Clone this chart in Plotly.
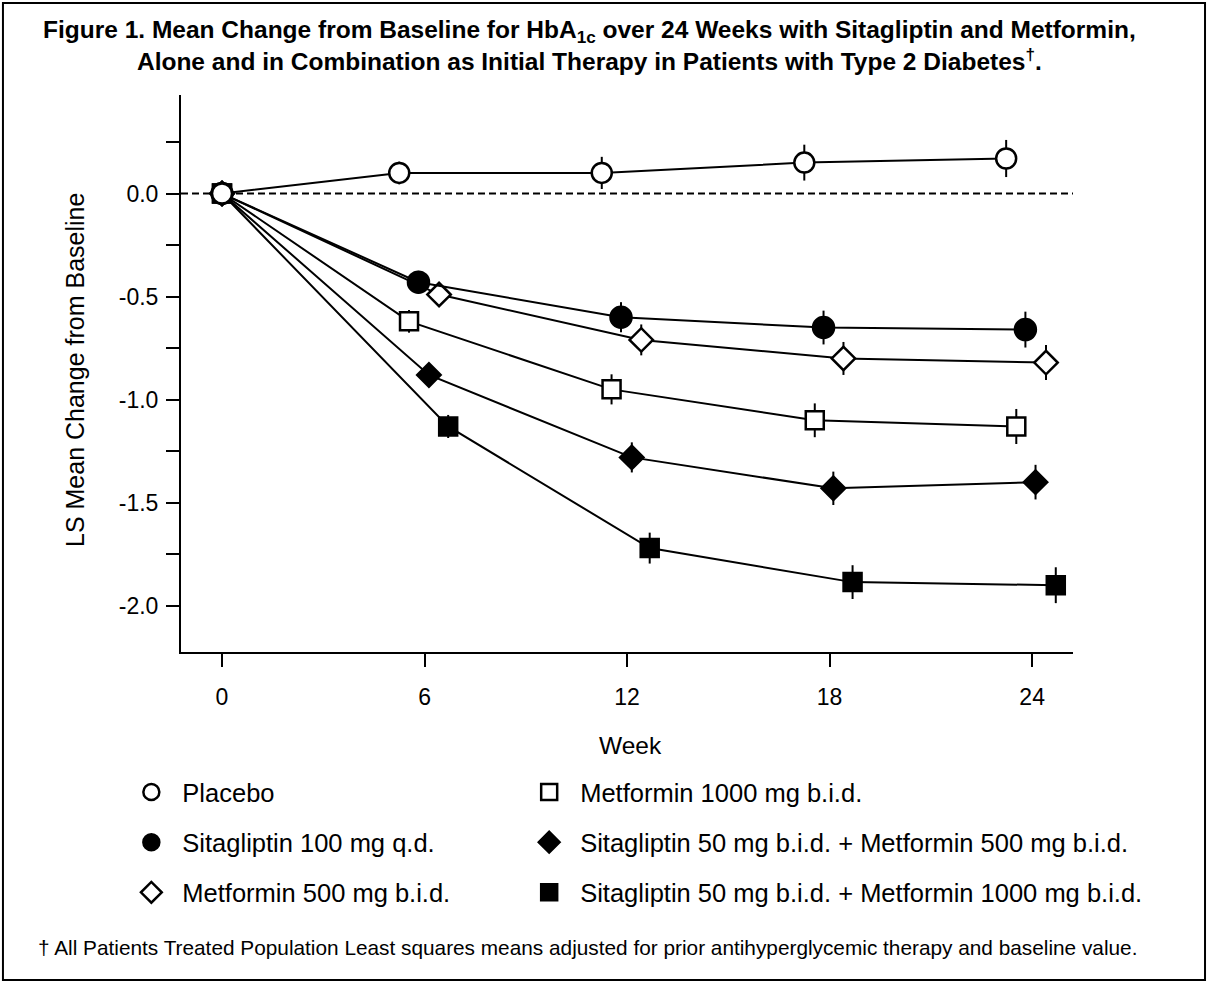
import plotly.graph_objects as go

# weeks as plotted (points are nudged sideways in the original so they don't overlap)
placebo_x = [0, 5.25, 11.25, 17.25, 23.23]
placebo_y = [0, 0.10, 0.10, 0.15, 0.17]
placebo_err = [0, 0.055, 0.078, 0.087, 0.09]

sita100_x = [0, 5.82, 11.82, 17.82, 23.8]
sita100_y = [0, -0.43, -0.60, -0.65, -0.66]
sita100_err = [0, 0.055, 0.073, 0.082, 0.087]

met500_x = [0, 6.43, 12.42, 18.41, 24.41]
met500_y = [0, -0.49, -0.71, -0.80, -0.82]
met500_err = [0, 0.055, 0.075, 0.08, 0.085]

met1000_x = [0, 5.54, 11.54, 17.56, 23.53]
met1000_y = [0, -0.62, -0.95, -1.10, -1.13]
met1000_err = [0, 0.055, 0.073, 0.082, 0.085]

sm500_x = [0, 6.13, 12.14, 18.11, 24.1]
sm500_y = [0, -0.88, -1.28, -1.43, -1.40]
sm500_err = [0, 0.055, 0.073, 0.081, 0.084]

sm1000_x = [0, 6.7, 12.67, 18.68, 24.7]
sm1000_y = [0, -1.13, -1.72, -1.885, -1.90]
sm1000_err = [0, 0.056, 0.075, 0.082, 0.087]

x_ticks = [0, 6, 12, 18, 24]
y_ticks = [0.0, -0.5, -1.0, -1.5, -2.0]
y_ticktext = ["0.0", "-0.5", "-1.0", "-1.5", "-2.0"]

FONT = "Liberation Sans, Arial, Helvetica, sans-serif"

# name, x, y, err, symbol, fill, size, legend column
series = [
    ("Sitagliptin 50 mg b.i.d. + Metformin 1000 mg b.i.d.", sm1000_x, sm1000_y, sm1000_err, "square", "black", 18, "legend2"),
    ("Sitagliptin 50 mg b.i.d. + Metformin 500 mg b.i.d.", sm500_x, sm500_y, sm500_err, "diamond", "black", 18, "legend2"),
    ("Metformin 1000 mg b.i.d.", met1000_x, met1000_y, met1000_err, "square", "white", 18, "legend2"),
    ("Metformin 500 mg b.i.d.", met500_x, met500_y, met500_err, "diamond", "white", 18, "legend"),
    ("Sitagliptin 100 mg q.d.", sita100_x, sita100_y, sita100_err, "circle", "black", 21, "legend"),
    ("Placebo", placebo_x, placebo_y, placebo_err, "circle", "white", 20, "legend"),
]
legend_order = ["Placebo", "Sitagliptin 100 mg q.d.", "Metformin 500 mg b.i.d.",
                "Metformin 1000 mg b.i.d.", "Sitagliptin 50 mg b.i.d. + Metformin 500 mg b.i.d.",
                "Sitagliptin 50 mg b.i.d. + Metformin 1000 mg b.i.d."]

fig = go.Figure()

for name, x, y, err, sym, fill, size, leg in series:
    fig.add_trace(go.Scatter(
        x=x, y=y, mode="lines+markers", name=name, showlegend=False,
        line=dict(color="black", width=2),
        marker=dict(symbol=sym, size=size, color=fill, line=dict(color="black", width=2.5)),
        error_y=dict(type="data", array=err, visible=True, color="black", thickness=2, width=0),
    ))

# legend-only marker entries
lookup = {s[0]: s for s in series}
for i, name in enumerate(legend_order):
    _, _, _, _, sym, fill, size, leg = lookup[name]
    fig.add_trace(go.Scatter(
        x=[None], y=[None], mode="markers", name=name, legend=leg, legendgroup=str(i),
        marker=dict(symbol=sym, size=size, color=fill, line=dict(color="black", width=2.5)),
    ))

fig.add_shape(type="line", xref="paper", x0=0, x1=1, yref="y", y0=0, y1=0,
              line=dict(color="black", width=2, dash="7px,4px"), layer="below")

# outer frame
fig.add_shape(type="rect", xref="paper", yref="paper",
              x0=-0.1996, x1=1.148, y0=-0.589, y1=1.165,
              line=dict(color="black", width=2))

fig.add_annotation(
    xref="paper", yref="paper", x=0.458, y=1.088, xanchor="center", yanchor="middle",
    text="Figure 1. Mean Change from Baseline for HbA<sub>1c</sub> over 24 Weeks with Sitagliptin and Metformin,<br>"
         "Alone and in Combination as Initial Therapy in Patients with Type 2 Diabetes<sup>†</sup>.",
    showarrow=False, align="center", font=dict(family=FONT, size=24.5, color="black", weight="bold"))

fig.add_annotation(xref="paper", yref="paper", x=0.5044, y=-0.167, xanchor="center", yanchor="middle",
                   text="Week", showarrow=False, font=dict(family=FONT, size=24.5, color="black"))

fig.add_annotation(xref="paper", yref="paper", x=-0.119, y=0.506, xanchor="center", yanchor="middle",
                   text="LS Mean Change from Baseline", textangle=-90, showarrow=False,
                   font=dict(family=FONT, size=25, color="black"))

fig.add_annotation(
    xref="paper", yref="paper", x=0.456, y=-0.531, xanchor="center", yanchor="middle",
    text="† All Patients Treated Population Least squares means adjusted for prior antihyperglycemic therapy and baseline value.",
    showarrow=False, font=dict(family=FONT, size=20.8, color="black"))

legend_style = dict(orientation="v", yanchor="top", xanchor="left", bgcolor="rgba(0,0,0,0)",
                    font=dict(family=FONT, size=25.5, color="black"), tracegroupgap=14,
                    itemsizing="trace", itemwidth=52)

fig.update_layout(
    width=1208, height=983,
    margin=dict(l=181, r=135, t=95, b=331),
    paper_bgcolor="white", plot_bgcolor="white",
    font=dict(family=FONT, size=23, color="black"),
    legend=dict(x=-0.068, y=-0.21, **legend_style),
    legend2=dict(x=0.378, y=-0.21, **legend_style),
    xaxis=dict(range=[-1.215, 25.21], tickvals=x_ticks, showgrid=False, zeroline=False,
               showline=True, linecolor="black", linewidth=2,
               ticks="outside", ticklen=13, tickwidth=2, tickcolor="black",
               ticklabelstandoff=10, tickfont=dict(size=23)),
    yaxis=dict(range=[-2.224, 0.478], tickvals=y_ticks, ticktext=y_ticktext, showgrid=False,
               zeroline=False, showline=True, linecolor="black", linewidth=2,
               ticks="outside", ticklen=13, tickwidth=2, tickcolor="black",
               ticklabelstandoff=3, tickfont=dict(size=23),
               minor=dict(dtick=0.25, tick0=0, ticks="outside", ticklen=13, tickwidth=2,
                          tickcolor="black", showgrid=False)),
)

fig.write_html("out.html", config={"displayModeBar": False},
               post_script="document.body.style.margin='0';")
